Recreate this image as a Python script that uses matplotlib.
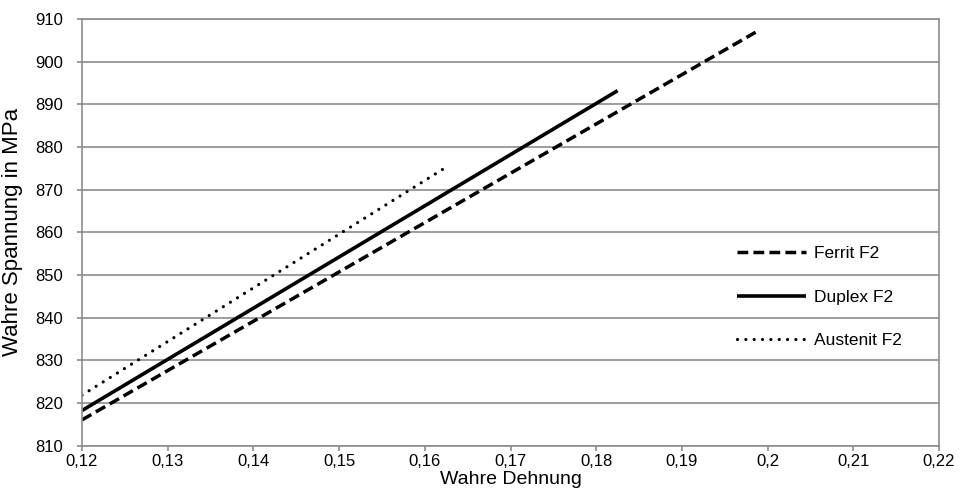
import matplotlib
matplotlib.use("Agg")
import matplotlib.pyplot as plt
from matplotlib.ticker import MultipleLocator, FuncFormatter

plt.rcParams['font.family'] = ['Liberation Sans', 'DejaVu Sans']

# Data
ferrit_x = [0.1200, 0.1986]
ferrit_y = [816.0, 906.9]
duplex_x = [0.1200, 0.1825]
duplex_y = [818.2, 893.2]
austenit_x = [0.1200, 0.1626]
austenit_y = [821.8, 875.4]

labels = ["Ferrit F2", "Duplex F2", "Austenit F2"]
x_label = "Wahre Dehnung"
y_label = "Wahre Spannung in MPa"

fig = plt.figure(figsize=(9.66, 5.0), dpi=100)
ax_left, ax_right, ax_top, ax_bot = 82, 939, 19, 445.5
ax = fig.add_axes([ax_left/966, 1-ax_bot/500, (ax_right-ax_left)/966, (ax_bot-ax_top)/500])

grid_c = "#8c8c8c"
ax.plot(ferrit_x, ferrit_y, color="black", lw=2.5, linestyle=(0, (3.1, 1.5)),
        dash_capstyle="butt", label=labels[0])
ax.plot(duplex_x, duplex_y, color="black", lw=2.6, linestyle="-",
        solid_capstyle="butt", label=labels[1])
ax.plot(austenit_x, austenit_y, color="black", lw=2.3, linestyle=(0, (0.01, 2.6)),
        dash_capstyle="round", label=labels[2])

ax.set_xlim(0.12, 0.22)
ax.set_ylim(810, 910)
ax.xaxis.set_major_locator(MultipleLocator(0.01))
ax.yaxis.set_major_locator(MultipleLocator(10))

def fmt_x(v, p):
    s = f"{v:.2f}".rstrip('0').rstrip('.')
    return s.replace('.', ',')

ax.xaxis.set_major_formatter(FuncFormatter(fmt_x))
ax.yaxis.set_major_formatter(FuncFormatter(lambda v, p: f"{v:.0f}"))

ax.grid(axis='y', color=grid_c, lw=1.2)
ax.set_axisbelow(True)
for s in ax.spines.values():
    s.set_color(grid_c)
    s.set_linewidth(1.2)
ax.tick_params(axis='both', colors=grid_c, labelcolor="#000000", labelsize=12,
               length=3.8, width=1.2, direction='out')
ax.tick_params(axis='y', pad=10)
ax.tick_params(axis='x', pad=2.2)

ax.set_xlabel(x_label, fontsize=14, va='top')
ax.xaxis.set_label_coords((ax_left + ax_right) / 2 / 966, 1-471/500, transform=fig.transFigure)
ax.set_ylabel(y_label, fontsize=16)
ax.yaxis.set_label_coords(23/966, 1 - (ax_top + ax_bot) / 2 / 500, transform=fig.transFigure)

leg = ax.legend(loc='center left', bbox_to_anchor=(737/966, 1-297/500),
                bbox_transform=fig.transFigure, frameon=False, fontsize=12.5,
                handlelength=4.0, handletextpad=0.45, labelspacing=1.63,
                borderpad=0, borderaxespad=0)

fig.savefig("out.png", dpi=100)
